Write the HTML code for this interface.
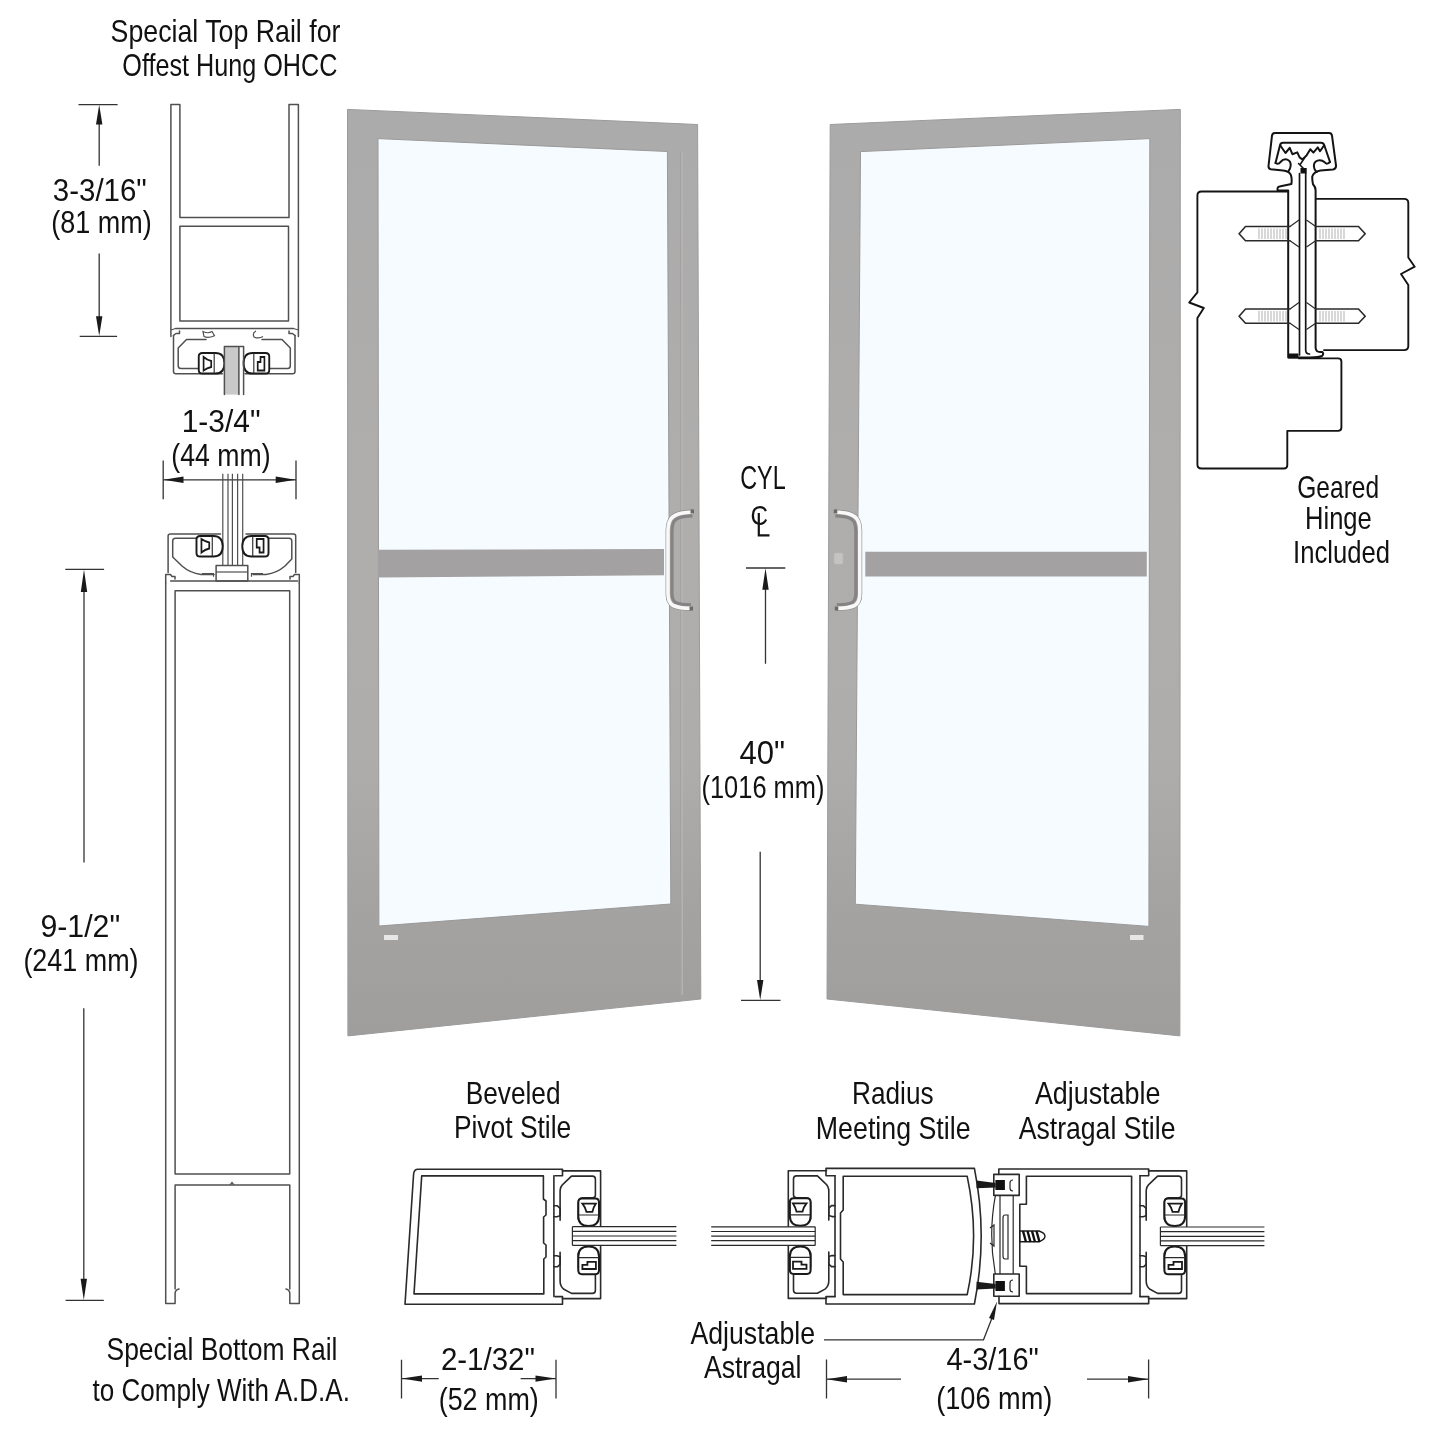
<!DOCTYPE html>
<html><head><meta charset="utf-8"><title>Door</title>
<style>
html,body{margin:0;padding:0;background:#fff;}
body{width:1445px;height:1445px;overflow:hidden;position:relative;-webkit-font-smoothing:antialiased;}
svg{will-change:transform;}
svg{position:absolute;left:0;top:0;}
text{font-family:"Liberation Sans",sans-serif;fill:#111;}
.ln{fill:none;stroke:#2a2a2a;stroke-width:1.6;stroke-linejoin:round;stroke-linecap:round;}
.th{fill:none;stroke:#2a2a2a;stroke-width:1.2;}
.dm{fill:none;stroke:#333;stroke-width:1.3;}
.ar{fill:#1a1a1a;stroke:none;}
#leftcol .ln{stroke:#505050;stroke-width:1.5;}
#leftcol .th{stroke:#505050;}
</style></head>
<body>
<svg width="1445" height="1445" viewBox="0 0 1445 1445">
<defs>
<linearGradient id="fr" x1="0" y1="0" x2="0" y2="1">
<stop offset="0" stop-color="#acabab"/><stop offset="0.45" stop-color="#afaead"/><stop offset="0.7" stop-color="#aeadac"/><stop offset="0.86" stop-color="#a4a3a2"/><stop offset="1" stop-color="#9f9e9d"/>
</linearGradient>
</defs>
<!-- LEFT DOOR -->
<g id="doorL">
<polygon points="347.5,109.4 697.6,124.5 700.8,999 347.9,1035.9" fill="url(#fr)"/>
<polygon points="347.5,109.4 697.6,124.5 700.8,999 347.9,1035.9" fill="none" stroke="#9c9b9b" stroke-width="1"/>
<polygon points="378,138.6 667.4,151.5 670.8,904 378.9,926" fill="#f5fbff" stroke="#9a9999" stroke-width="1"/>
<polygon points="378,549.7 664,549 664,575.3 378,577.5" fill="#a3a1a1"/>
<path d="M680.6,152V995" stroke="#a2a1a1" stroke-width="0.9"/><path d="M682.2,152V995" stroke="#b6b5b5" stroke-width="1.3"/>
</g>
<!-- RIGHT DOOR -->
<g id="doorR">
<polygon points="1180.3,109.4 830.2,124.5 827,999 1179.9,1035.9" fill="url(#fr)"/>
<polygon points="1180.3,109.4 830.2,124.5 827,999 1179.9,1035.9" fill="none" stroke="#9c9b9b" stroke-width="1"/>
<polygon points="1149.8,138.6 860.5,151.6 855.3,904.2 1148.9,926.4" fill="#f5fbff" stroke="#9a9999" stroke-width="1"/>
<polygon points="865.3,551.8 1146.8,551.8 1146.8,576.6 865.3,576.6" fill="#a3a1a1"/>
</g>

<!-- LEFT COLUMN: rail section -->
<g id="leftcol">
<!-- dim 3-3/16 -->
<path class="dm" d="M78.5,104.6H117.6M99.2,118V165.7M99.2,253.6V322M79.7,336.3H117.1"/>
<path class="ar" d="M99.2,104.8L102.4,124.6H96L99.2,104.8ZM99.2,336.1L102.4,316.3H96Z"/>
<!-- top rail -->
<path class="ln" d="M170.9,336.5V104.6H179.9V217.5H289V104.6H298.4V336.5"/>
<rect class="ln" x="179.9" y="226.2" width="108.6" height="94.7"/>
<path class="ln" d="M175.6,328.5H293.4"/>
<path class="th" d="M170.9,330L175.6,328.5M298.4,330L293.4,328.5"/>
<!-- top pocket -->
<path class="ln" d="M173.5,335.5V371.5Q173.5,373.8 176,373.8H222.4M245,373.8H292.5Q295,373.8 295,371.5V335.5"/>
<path class="ln" d="M199.6,368.6H181Q178.2,368.6 178.2,365.8V348L186.5,339.5H206"/>
<path class="ln" d="M268.4,368.6H287.5Q290.3,368.6 290.3,365.8V348L282,339.5H262"/>
<path class="ln" d="M173.5,335.5L176,333.5H179.5V331M295,335.5L292.5,333.5H289V331"/>
<path class="th" d="M203,331.5Q208,334 212,331.5L214.5,335.8Q208,338.5 204,336.5ZM256,331Q252,333 254,337Q259,339 263,336.5"/>
<!-- top gaskets -->
<use href="#gk" transform="matrix(0,1,0.93,0,234,328.5)"/>
<!-- glass stub -->
<rect x="224.4" y="346.5" width="14.5" height="48.1" fill="#c9c9c9"/>
<path class="ln" d="M224.4,394.6V346.5H243.6V394.6M238.9,346.5V394.6"/>
<!-- dim 1-3/4 -->
<path class="dm" d="M163.2,460.5V499.2M296,460.5V499.2M163.5,479.8H296"/>
<path class="ar" d="M163.6,479.8L183.5,476.6V483ZM295.6,479.8L275.7,476.6V483Z"/>
<!-- glass lines bottom -->
<path class="th" d="M222.8,473.8V565.6M228,473.8V565.6M232.4,473.8V565.6M237.6,473.8V565.6M242.7,473.8V565.6"/>
<!-- bottom pocket -->
<path class="ln" d="M168.1,572.6V536Q168.1,534 170.5,534H220.5M246,534H293.5Q295.7,534 295.7,536V572.6"/>
<path class="ln" d="M196,538.2H175.5Q172.7,538.2 172.7,541V557L182,566Q190,573 201,574.5H214M253,574.5H266Q277,573 285,566L291.8,559V541Q291.8,538.2 289,538.2H268.7"/>
<use href="#gk" transform="matrix(0,-1,0.95,0,232.5,581)"/>
<rect class="ln" x="216.1" y="565.6" width="31.7" height="15.5"/>
<path class="th" d="M216.1,572H247.8"/>
<path class="ln" d="M165.7,583V574.5H170.5L172,576.5H175V579"/>
<path class="ln" d="M299.3,583V574.5H294.5L293,576.5H290V579"/>
<path class="th" d="M202,573.5H213.5V576.8M251.5,576.8V573.5H263"/>
<path class="ln" d="M170.6,581.1H297.7"/>
<!-- bottom rail body -->
<path class="ln" d="M165.7,583V1303.6H175.1V1293.5Q175.1,1290 179,1289M299.3,583V1303.6H289.8V1293.5Q289.8,1290 286,1289"/>
<path class="ln" d="M175.1,1289V1184.9H289.8V1289"/>
<rect class="ln" x="175.1" y="590.8" width="114.6" height="583.2"/>
<path class="th" d="M230,1184.9L232,1182.5L234,1184.9"/>
<!-- dim 9-1/2 -->
<path class="dm" d="M65.3,569.4H104.1M84,585V862.6M83.8,1008.3V1285M65.6,1300.3H103.8"/>
<path class="ar" d="M84,569.6L87.2,592H80.8ZM83.8,1300.1L87,1278.7H80.6Z"/>
</g>

<!-- MIDDLE DIMS -->
<g id="middims">
<path class="dm" d="M746,568H785.3M765.5,585V663.7M760.2,851.7V985M741,1000.3H780.5"/>
<path class="ar" d="M765.5,568.2L768.7,589.8H762.3ZM760.2,1000.1L763.4,980H757Z"/>
<text x="750.5" y="525.4" font-size="28" textLength="17.5" lengthAdjust="spacingAndGlyphs">C</text>
<path d="M758.8,513V535.4H769.5" fill="none" stroke="#151515" stroke-width="2.2"/>
</g>
<!-- HANDLES -->
<g id="handles">
<path d="M692.5,515.8C684,516.2 675.5,516.8 673,523.5Q672,527 672,531V593Q672,600 675.5,602.5C680,604.6 685,604.9 691,604.9" fill="none" stroke="#858383" stroke-width="3.2"/>
<path d="M693,510.2C683,510.6 670.5,511.5 667.6,521.4Q666.2,525.3 666.2,530V594Q666.2,603.5 672.2,607.1C678,609.9 685,610.1 691.5,610" fill="none" stroke="#8a8a8a" stroke-width="1.2"/>
<path d="M693,512C683,512.5 672,513.5 669.3,522Q668,525.5 668,530V594Q668,602.5 673,605.5C678.5,608 685,608.3 691.5,608.2" fill="none" stroke="#f8f8f8" stroke-width="3.6"/>
<path d="M690.5,509.5h3.5v4h-3.5zM689.5,606.5h3.5v4h-3.5z" fill="#6a6a6a"/>
<path d="M835.3 515.8 C843.8 516.2 852.3 516.8 854.8 523.5 Q855.8 527.0 855.8 531.0 V593.0 Q855.8 600.0 852.3 602.5 C847.8 604.6 842.8 604.9 836.8 604.9 " fill="none" stroke="#858383" stroke-width="3.2"/>
<path d="M834.8 510.2 C844.8 510.6 857.3 511.5 860.2 521.4 Q861.6 525.3 861.6 530.0 V594.0 Q861.6 603.5 855.6 607.1 C849.8 609.9 842.8 610.1 836.3 610.0 " fill="none" stroke="#8a8a8a" stroke-width="1.2"/>
<path d="M834.8 512.0 C844.8 512.5 855.8 513.5 858.5 522.0 Q859.8 525.5 859.8 530.0 V594.0 Q859.8 602.5 854.8 605.5 C849.3 608.0 842.8 608.3 836.3 608.2 " fill="none" stroke="#f8f8f8" stroke-width="3.6"/>
<path d="M833.8,509.5h3.5v4h-3.5zM834.8,606.5h3.5v4h-3.5z" fill="#6a6a6a"/>
<rect x="833.8" y="552.6" width="9.5" height="12" rx="2" fill="#c4c3c3" stroke="#b0afaf" stroke-width="0.8"/>
<rect x="384" y="935" width="14" height="5" fill="#e6e6e6"/>
<rect x="1130" y="935" width="13.5" height="5" fill="#e6e6e6"/>
</g>
<!-- HINGE -->
<g id="hinge">
<path class="ln" style="stroke:#141414;stroke-width:1.9" d="M1287.3,191.5H1201.5Q1197.4,191.5 1197.4,195.5V292.4L1189.2,302.5L1203.8,308L1197.4,318V464.5Q1197.4,468.5 1201.5,468.5H1284Q1287.3,468.5 1287.3,465V430.9H1338Q1341.4,430.9 1341.4,427.5V361.5Q1341.4,358.4 1338,358.4H1299"/>
<path class="ln" style="stroke:#141414;stroke-width:1.9" d="M1316.6,198.9H1404Q1408.3,198.9 1408.3,203V257.5L1414.7,266.7L1401,274L1408.3,285V346Q1408.3,350.1 1404,350.1H1324"/>
<g fill="none" stroke="#141414" stroke-width="2" stroke-linejoin="round" stroke-linecap="round">
<path d="M1288.2,357.5V190.4H1277.6Q1277,186.8 1279.5,186.4L1291.4,184Q1292.2,178 1290.8,174.8Q1289,171 1283,170.4L1270.8,169.2Q1268.3,168.6 1268.5,166L1272,135.6Q1272.4,133.1 1275,133.1H1329Q1331.6,133.1 1332,135.6L1336,165.5Q1336.2,169 1333,169.4L1320.4,170.5Q1313.5,172 1312.2,176.7Q1312.3,182 1313,184.3Q1315.5,187 1315.6,190V348Q1316,352 1320,352H1322.5Q1324,354 1322,356Q1319,357.5 1310,357.5H1288.2"/>
<path d="M1275.5,163L1280,145.2Q1280.6,142.7 1283,142.7H1321Q1323.5,142.7 1324.3,145.2L1330,162"/>
<path d="M1275.5,163Q1278.5,165 1280.5,162Q1283.5,158.5 1287.3,159.6Q1291.2,161.3 1290.6,166Q1290.3,169 1288.6,171"/>
<path d="M1330,162Q1327,165 1325,162.5Q1321.5,159.5 1317.5,160.6Q1313.6,162 1313.9,166.5Q1314.2,170 1316.6,172"/>
<path d="M1280.3,145.5L1285.5,153L1289.7,147.8L1292.4,154.2L1297.3,152.4L1299.6,157.4L1302.4,159.5M1324,145.5L1320,151.3L1317.8,147.4L1313.4,152.6L1310.3,149.3L1306.5,155.5L1302.4,159.5"/>
<path d="M1299.5,173.5V355M1305.7,173.5V350Q1305.7,354 1309.5,354" stroke-width="1.7"/>
<path d="M1298.5,163.5L1303.5,168.5M1304.5,158L1300.5,164" stroke-width="1.5"/>
</g>
<path fill="#111" d="M1300.5,168H1306.7V173.5H1300.5Z"/>
<path fill="#111" d="M1288.2,353.5H1298.5V358.4H1288.2Z"/>
<!-- screws -->
<g id="screwpair">
<path class="ln" d="M1290,226.5H1245.5L1239.1,233.7L1245.5,240.8H1290M1315.7,226.5H1358.5L1365.2,233.7L1358.5,240.8H1315.7"/>
<path class="th" d="M1290,226.5L1299,220M1290,240.8L1299,247M1306.5,220L1315.7,226.5M1306.5,247L1315.7,240.8"/>
<path d="M1259,228.5V239M1262,228.5V239M1265,228.5V239M1268,228.5V239M1271,228.5V239M1274,228.5V239M1277,228.5V239M1280,228.5V239M1283,228.5V239M1286,228.5V239M1320,228.5V239M1323,228.5V239M1326,228.5V239M1329,228.5V239M1332,228.5V239M1335,228.5V239M1338,228.5V239M1341,228.5V239M1344,228.5V239" stroke="#a8a8a8" stroke-width="0.9" fill="none"/>
</g>
<use href="#screwpair" transform="translate(0,82.5)"/>
</g>

<!-- CLIP SYMBOL (local: wall at x=0, glass center y=0, glass to +x) -->
<defs>
<g id="gk">
<path fill="#fff" stroke="#1a1a1a" stroke-width="2" d="M24.4,-34Q24.4,-37.9 28,-37.9H41.5Q45.1,-37.9 45.1,-34V-20Q45,-10.3 34.7,-10.3Q24.4,-10.3 24.4,-20Z"/>
<path fill="#fff" stroke="#1a1a1a" stroke-width="2" d="M24.4,34Q24.4,37.9 28,37.9H41.5Q45.1,37.9 45.1,34V20Q45,10.3 34.7,10.3Q24.4,10.3 24.4,20Z"/>
<path class="th" d="M24.6,-21.3H45M24.6,21.3H45"/>
<path fill="none" stroke="#1a1a1a" stroke-width="1.8" d="M28.5,-32.7H42Q39.5,-29 38.5,-24.5H32.5Q31.5,-29 28.5,-32.7ZM28.5,32.7H42V25.5H33.5V28.5H28.5Z"/>
</g>
<g id="clip">
<path class="ln" d="M8.5,-65.4H46.7V62.3H8.5"/>
<path class="ln" d="M6.2,-16V-45Q6.2,-50 10,-53L17.6,-60.2H38.5Q41.5,-60.2 41.5,-57V-41Q41.5,-38.4 38.5,-38.4H29Q24.4,-38 24.4,-33V-17"/>
<path class="ln" d="M6.2,16V45Q6.2,50 10,53L17.6,57.1H38.5Q41.5,57.1 41.5,54V39Q41.5,36.2 38.5,36.2H29Q24.4,35.8 24.4,31V17"/>
<use href="#gk"/>
<path class="ln" d="M0,-30.5H3.5L6.2,-28V-20.5L3,-19.5H0M0,30.5H3.5L6.2,28V20.5L3,19.5H0"/>
</g>
<g id="glass5">
<rect x="0" y="-9.3" width="104" height="18.6" fill="#fff"/>
<path class="th" d="M0,-9.3H104M0,-4.6H104M0,0H104M0,4.6H104M0,9.3H104"/>
<path class="th" d="M0,-9.3V9.3"/>
</g>
</defs>

<!-- BEVELED PIVOT STILE -->
<g id="bps">
<path class="ln" d="M418,1169.3H562.5V1175.8H555M555,1296.6H562.5V1304.2H405L413.6,1174Q414.2,1169.3 418,1169.3"/>
<path class="ln" d="M553.9,1175.8V1296.6"/>
<path class="ln" d="M421.7,1175.9H543.4V1199L546,1201V1215L543.6,1217V1243L546,1245V1257L543.8,1259V1293.9H414Z"/>
<use href="#clip" transform="translate(553.9,1236.3)"/>
<use href="#glass5" transform="translate(572.4,1236)"/>
</g>
<!-- RADIUS MEETING STILE -->
<g id="rms">
<path class="ln" d="M835,1175.8H826V1168.4H974.4Q988,1236 974.4,1304H826V1296.6H835"/>
<path class="ln" d="M835,1175.8V1296.6"/>
<path class="ln" d="M843.2,1176.3H967.2Q980,1236 967.2,1294.6H843.2V1262L840.5,1259V1213L843.2,1210Z"/>
<use href="#clip" transform="translate(835,1236.1) scale(-1,1)"/>
<use href="#glass5" transform="translate(815.2,1236.1) scale(-1,1)"/>
</g>
<!-- ADJUSTABLE ASTRAGAL STILE -->
<g id="as">
<path class="ln" d="M998.8,1174.4V1169H1148.7V1175.8H1140M1140,1296.6H1148.7V1303.6H999V1296.2"/>
<path class="ln" d="M1140,1175.8V1296.6"/>
<path class="ln" d="M1026.4,1176.3H1131.6V1293.6H1026.4V1266.3H1019.8V1204.3H1026.4Z"/>
<use href="#clip" transform="translate(1140,1236.3)"/>
<use href="#glass5" transform="translate(1160.4,1236.3)"/>
<rect class="ln" x="993.8" y="1174.4" width="25.4" height="21"/>
<rect class="ln" x="993.8" y="1274" width="25.4" height="22.2"/>
<path class="th" d="M1013,1180Q1010,1180 1010,1183V1188Q1010,1191 1013,1191M1013,1280Q1010,1280 1010,1283V1289Q1010,1292 1013,1292"/>
<rect x="995.4" y="1180" width="9.5" height="10" fill="#111"/>
<rect x="995.4" y="1281" width="9.5" height="10" fill="#111"/>
<path fill="#1a1a1a" d="M976.5,1180.5L995.6,1183V1187.5L976.5,1188.2ZM976.5,1281.8L995.6,1284V1288.5L976.5,1289.6Z"/>
<path class="th" d="M995.4,1195.4Q988,1235 995.4,1274M1000,1195.4V1274M1013.2,1195.4V1274M1005,1215Q1003,1215 1003,1218V1256Q1003,1259 1005,1259H1008V1215Z"/>
<path class="th" d="M990,1228L994,1225V1246L990,1243"/>
<path d="M1020,1231H1039Q1045,1233 1045,1236.3Q1045,1239.5 1039,1241.8H1020Z" fill="#fff" stroke="#1a1a1a" stroke-width="1.4"/>
<path d="M1023,1231L1026,1242M1027.5,1231L1030.5,1242M1032,1231L1035,1242M1036.5,1231L1039.5,1242" stroke="#111" stroke-width="2.4"/>
</g>
<!-- BOTTOM DIMS -->
<g id="botdims">
<path class="dm" d="M401.5,1359.8V1398.5M556,1359.8V1398.5M401.5,1378.6H438.7M520.6,1378.6H556"/>
<path class="ar" d="M401.8,1378.6L422,1375.4V1381.8ZM555.7,1378.6L535.5,1375.4V1381.8Z"/>
<path class="dm" d="M826.5,1359.5V1398.5M1148.6,1359.5V1398.5M826.5,1379.2H901M1087,1379.2H1148.6"/>
<path class="ar" d="M826.8,1379.2L847,1376V1382.4ZM1148.3,1379.2L1128,1376V1382.4Z"/>
<path class="dm" d="M824,1339.8H983.5L992,1318"/>
<path class="ar" d="M997,1301.5L994,1320L989,1318Z"/>
</g>

<!-- TEXTS -->
<g id="texts">
<text x="110.6" y="42.4" font-size="31.5" textLength="229.8" lengthAdjust="spacingAndGlyphs">Special Top Rail for</text>
<text x="122.3" y="76" font-size="31.5" textLength="215.1" lengthAdjust="spacingAndGlyphs">Offest Hung OHCC</text>
<text x="52.8" y="201.3" font-size="31.5" textLength="94.0" lengthAdjust="spacingAndGlyphs">3-3/16&quot;</text>
<text x="51.3" y="232.9" font-size="31.5" textLength="100.5" lengthAdjust="spacingAndGlyphs">(81 mm)</text>
<text x="181.7" y="431.7" font-size="31.5" textLength="78.9" lengthAdjust="spacingAndGlyphs">1-3/4&quot;</text>
<text x="171.3" y="466" font-size="31.5" textLength="99.3" lengthAdjust="spacingAndGlyphs">(44 mm)</text>
<text x="40.4" y="936.8" font-size="31.5" textLength="79.8" lengthAdjust="spacingAndGlyphs">9-1/2&quot;</text>
<text x="23.4" y="970.9" font-size="31.5" textLength="115.2" lengthAdjust="spacingAndGlyphs">(241 mm)</text>
<text x="106.5" y="1360.4" font-size="31.5" textLength="230.9" lengthAdjust="spacingAndGlyphs">Special Bottom Rail</text>
<text x="92.6" y="1400.5" font-size="31.5" textLength="257.3" lengthAdjust="spacingAndGlyphs">to Comply With A.D.A.</text>
<text x="740.2" y="489.4" font-size="34" textLength="45.5" lengthAdjust="spacingAndGlyphs">CYL</text>
<text x="739.5" y="763.6" font-size="32.5" textLength="45.6" lengthAdjust="spacingAndGlyphs">40&quot;</text>
<text x="701.5" y="798" font-size="31.5" textLength="122.9" lengthAdjust="spacingAndGlyphs">(1016 mm)</text>
<text x="1297.3" y="497.8" font-size="31.5" textLength="81.8" lengthAdjust="spacingAndGlyphs">Geared</text>
<text x="1305.0" y="529" font-size="31.5" textLength="66.8" lengthAdjust="spacingAndGlyphs">Hinge</text>
<text x="1293.1" y="562.9" font-size="31.5" textLength="97.0" lengthAdjust="spacingAndGlyphs">Included</text>
<text x="465.7" y="1104.2" font-size="31.5" textLength="94.9" lengthAdjust="spacingAndGlyphs">Beveled</text>
<text x="453.9" y="1138.4" font-size="31.5" textLength="117.4" lengthAdjust="spacingAndGlyphs">Pivot Stile</text>
<text x="852.1" y="1104" font-size="31.5" textLength="81.5" lengthAdjust="spacingAndGlyphs">Radius</text>
<text x="815.8" y="1138.5" font-size="31.5" textLength="154.8" lengthAdjust="spacingAndGlyphs">Meeting Stile</text>
<text x="1034.9" y="1103.6" font-size="31.5" textLength="125.5" lengthAdjust="spacingAndGlyphs">Adjustable</text>
<text x="1018.7" y="1139" font-size="31.5" textLength="156.8" lengthAdjust="spacingAndGlyphs">Astragal Stile</text>
<text x="440.9" y="1369.8" font-size="31.5" textLength="94.1" lengthAdjust="spacingAndGlyphs">2-1/32&quot;</text>
<text x="438.7" y="1409.6" font-size="31.5" textLength="100.1" lengthAdjust="spacingAndGlyphs">(52 mm)</text>
<text x="690.4" y="1344.3" font-size="31.5" textLength="124.7" lengthAdjust="spacingAndGlyphs">Adjustable</text>
<text x="703.9" y="1378" font-size="31.5" textLength="97.6" lengthAdjust="spacingAndGlyphs">Astragal</text>
<text x="946.4" y="1369.7" font-size="31.5" textLength="92.4" lengthAdjust="spacingAndGlyphs">4-3/16&quot;</text>
<text x="936.2" y="1408.7" font-size="31.5" textLength="116.2" lengthAdjust="spacingAndGlyphs">(106 mm)</text>
</g>
</svg>
</body></html>
